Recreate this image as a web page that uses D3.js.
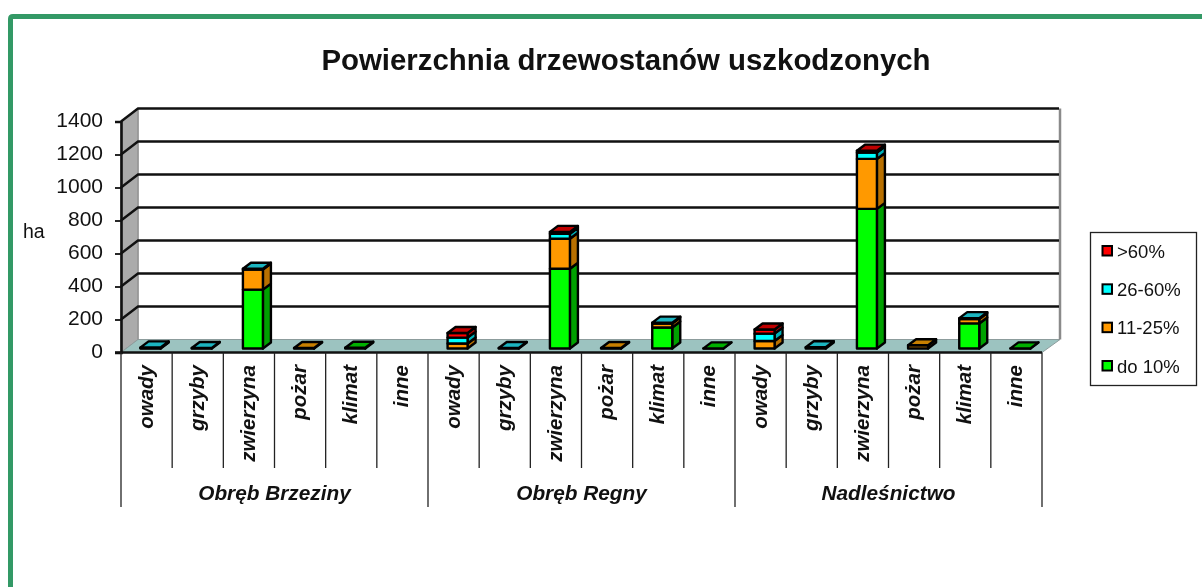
<!DOCTYPE html>
<html><head><meta charset="utf-8">
<script src="https://cdn.jsdelivr.net/npm/d3@7/dist/d3.min.js"></script>
<style>html,body{margin:0;padding:0;background:#fff;overflow:hidden}svg{display:block;filter:blur(0.45px)}text{font-family:"Liberation Sans",Arial,sans-serif;fill:#111}</style>
</head><body><svg id="c" width="1202" height="587"></svg>
<script>
const title = "Powierzchnia drzewostanów uszkodzonych";
const groups = ["Obręb Brzeziny","Obręb Regny","Nadleśnictwo"];
const causes = ["owady","grzyby","zwierzyna","pożar","klimat","inne"];
const seriesNames = ["do 10%","11-25%","26-60%",">60%"];
const do10   = [2,0,357,0,5,0,  0,0,483,0,127,1,  0,0,846,0,152,1];
const s11_25 = [2,0,121,3,0,0, 30,0,182,3,24,0,  45,0,303,20,26,0];
const s26_60 = [3,3,5,0,0,0,   36,3,30,0,6,0,    45,8,38,0,6,0];
const s60    = [0,0,0,0,0,0,   28,0,12,0,0,0,    25,0,12,0,0,0];
const yTicks = [0,200,400,600,800,1000,1200,1400];
const front = ["#00ff00","#ff9900","#00ffff","#ff0000"];
const side  = ["#00a000","#b87000","#00b0b8","#b00000"];
const topC  = ["#00b000","#c88000","#1cb5c0","#c00000"];

const svg = d3.select("#c");
const keys = groups.flatMap(g => causes.map(c => g + "|" + c));
const rows = keys.map((k,i)=>({k, a:do10[i], b:s11_25[i], c:s26_60[i], d:s60[i]}));
const stacked = d3.stack().keys(["a","b","c","d"])(rows);

const x0=121, x1=1042, wallDx=17, wallDy=13, yZero=352.5, yTop=121.5, barLift=4, barW=20, barDx=8, barDy=6;
const x = d3.scaleBand().domain(keys).range([x0,x1]);
const y = d3.scaleLinear().domain([0,1400]).range([yZero,yTop]);
const pts = a => a.map(p=>p.join(",")).join(" ");

// frame
svg.append("path").attr("d","M10.5,587V19Q10.5,16.5 13,16.5H1202").attr("fill","none").attr("stroke","#339966").attr("stroke-width",5);

// title
svg.append("text").attr("x",626).attr("y",70).attr("text-anchor","middle").attr("font-size",29.4).attr("font-weight","bold").text(title);
svg.append("text").attr("x",23).attr("y",238).attr("font-size",19.5).attr("fill","#222").text("ha");

// wall + floor
svg.append("polygon").attr("points",pts([[x0,yTop],[x0+wallDx,yTop-wallDy],[x0+wallDx,yZero-wallDy],[x0,yZero]])).attr("fill","#ababab").attr("stroke","#8c8c8c");
svg.append("polygon").attr("points",pts([[x0,yZero],[x0+wallDx,yZero-wallDy],[x1+wallDx+1,yZero-wallDy],[x1,yZero]])).attr("fill","#9cc3c0").attr("stroke","#8c9c9c");
svg.append("line").attr("x1",x1+wallDx+1).attr("x2",x1+wallDx+1).attr("y1",yTop-wallDy).attr("y2",yZero-wallDy).attr("stroke","#8a8a8a").attr("stroke-width",2.5);
svg.append("line").attr("x1",x0+wallDx).attr("x2",x0+wallDx).attr("y1",yTop-wallDy).attr("y2",yZero-wallDy).attr("stroke","#999").attr("stroke-width",1.5);

// gridlines
yTicks.filter(t=>t>0).forEach(t=>{
  const yy=y(t);
  svg.append("polyline").attr("points",pts([[x0,yy],[x0+wallDx,yy-wallDy],[x1+wallDx,yy-wallDy]])).attr("fill","none").attr("stroke","#111").attr("stroke-width",2.4);
});

// axes
const yAxis = d3.axisLeft(y).tickValues(yTicks).tickSize(6).tickPadding(12).tickFormat(d3.format("d"));
const ga = svg.append("g").attr("transform",`translate(${x0},0)`).call(yAxis);
ga.select(".domain").attr("stroke","#111").attr("stroke-width",2.6);
ga.selectAll("line").attr("stroke","#111").attr("stroke-width",1.8);
ga.selectAll("text").attr("font-size",21).attr("font-family",'"Liberation Sans",Arial,sans-serif').attr("fill","#222").attr("dy","0.23em");
svg.append("line").attr("x1",115).attr("x2",x1).attr("y1",yZero).attr("y2",yZero).attr("stroke","#111").attr("stroke-width",2.4);

// bars
const barX = k => x(k)+x.bandwidth()/2-6;
const base = v => y(v)-barLift;
const gb = svg.append("g").attr("stroke","#000").attr("stroke-width",2.4).attr("stroke-linejoin","round");
rows.forEach((r,i)=>{
  if(stacked[3][i][1]<=0) return;
  const l=barX(r.k), w=barW;
  stacked.forEach((st,si)=>{
    const [v0,v1]=st[i];
    if(v1<=v0) return;
    const yb=base(v0), yt=base(v1);
    gb.append("polygon").attr("points",pts([[l+w,yb],[l+w+barDx,yb-barDy],[l+w+barDx,yt-barDy],[l+w,yt]])).attr("fill",side[si]);
    gb.append("rect").attr("x",l).attr("y",yt).attr("width",w).attr("height",yb-yt).attr("fill",front[si]);
  });
  let ti=0; stacked.forEach((st,si)=>{ if(st[i][1]>st[i][0]) ti=si; });
  const yt=base(stacked[3][i][1]);
  gb.append("polygon").attr("points",pts([[l,yt],[l+barDx,yt-barDy],[l+w+barDx,yt-barDy],[l+w,yt]])).attr("fill",topC[ti]);
});

// category separators and labels
const gx = svg.append("g");
keys.forEach((k,i)=>{
  const bx=x(k), isG=i%causes.length===0;
  gx.append("line").attr("x1",bx).attr("x2",bx).attr("y1",yZero).attr("y2",isG?507:468).attr("stroke","#222").attr("stroke-width",1.3);
  gx.append("text").attr("transform",`translate(${bx+x.bandwidth()/2+6},365) rotate(-90)`).attr("text-anchor","end")
    .attr("font-size",20.5).attr("font-weight","bold").attr("font-style","italic").text(k.split("|")[1]);
});
gx.append("line").attr("x1",x1).attr("x2",x1).attr("y1",yZero).attr("y2",507).attr("stroke","#222").attr("stroke-width",1.3);
groups.forEach((g,i)=>{
  const a=x(keys[i*causes.length]);
  gx.append("text").attr("x",a+x.bandwidth()*3).attr("y",500).attr("text-anchor","middle").attr("font-size",20.8).attr("font-weight","bold").attr("font-style","italic").text(g);
});

// legend
svg.append("rect").attr("x",1090.5).attr("y",232.5).attr("width",106).attr("height",153).attr("fill","#fff").attr("stroke","#222").attr("stroke-width",1.3);
const legendY = d3.scalePoint().domain(seriesNames.slice().reverse()).range([251,366]);
seriesNames.forEach((n,i)=>{
  const ly=legendY(n);
  svg.append("rect").attr("x",1102.5).attr("y",ly-5).attr("width",9.5).attr("height",9.5).attr("fill",front[i]).attr("stroke","#000").attr("stroke-width",2);
  svg.append("text").attr("x",1117).attr("y",ly+6.5).attr("font-size",18.5).attr("fill","#222").text(n);
});
</script></body></html>
